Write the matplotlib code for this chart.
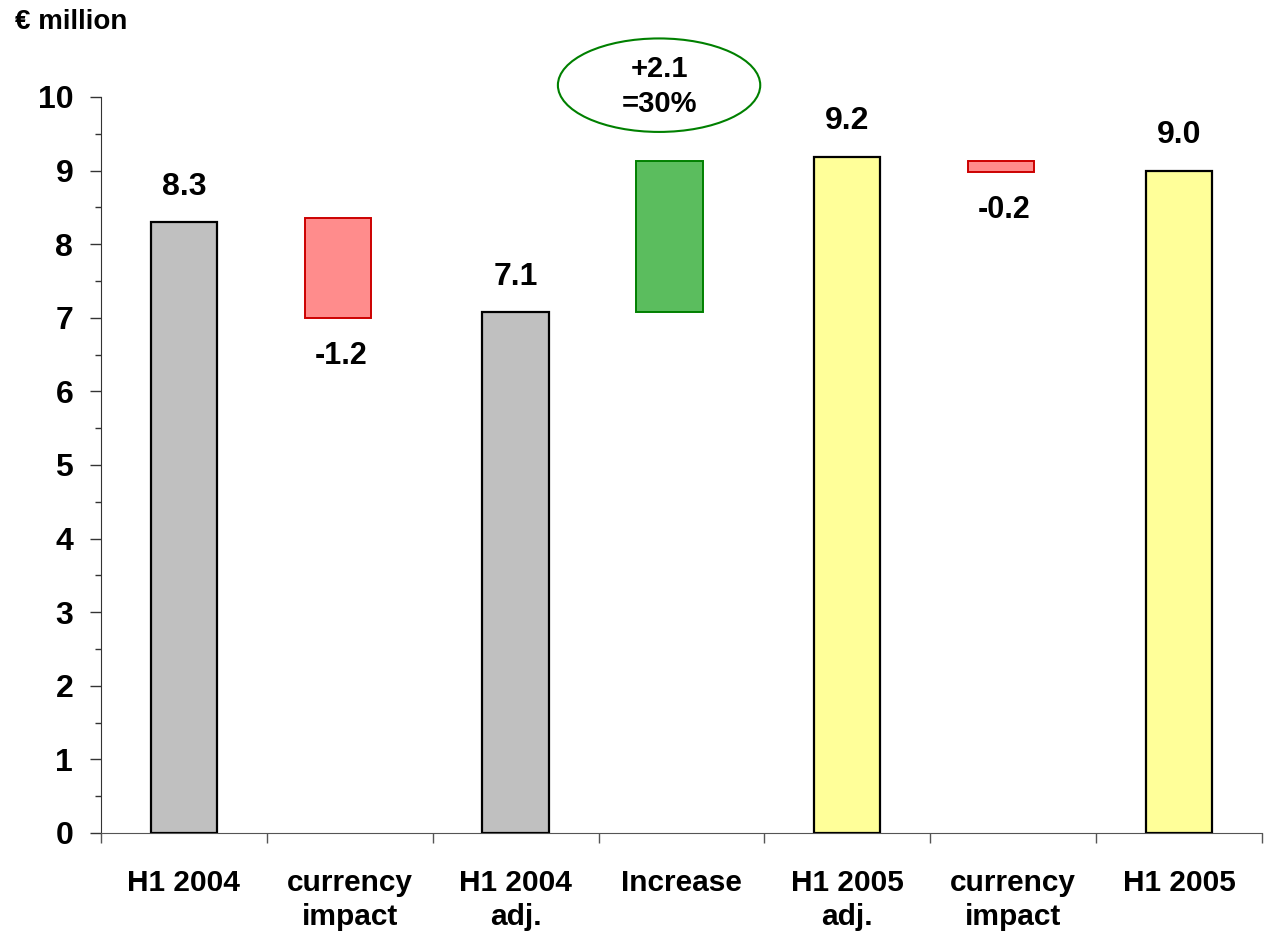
import matplotlib
matplotlib.use('Agg')
import matplotlib.pyplot as plt
from matplotlib.patches import Ellipse

plt.rcParams['font.family'] = ['Liberation Sans', 'DejaVu Sans']
plt.rcParams['font.weight'] = 'bold'

# categories along the x axis
categories = ['H1 2004', 'currency\nimpact', 'H1 2004\nadj.', 'Increase',
              'H1 2005\nadj.', 'currency\nimpact', 'H1 2005']

# total bars (index, value, label)
total_idx = [0, 2, 4, 6]
total_val = [8.3, 7.08, 9.19, 9.0]
total_lbl = ['8.3', '7.1', '9.2', '9.0']
total_col = ['#C0C0C0', '#C0C0C0', '#FFFF99', '#FFFF99']

# floating change bars (index, bottom, top, label)
delta_idx = [1, 3, 5]
delta_low = [7.0, 7.08, 8.98]
delta_high = [8.35, 9.135, 9.135]
delta_lbl = ['-1.2', '', '-0.2']
delta_fill = ['#FF8C8C', '#5BBD5E', '#FF8C8C']
delta_edge = ['#CC0000', '#008000', '#CC0000']

increase_txt = '+2.1\n=30%'

fig = plt.figure(figsize=(12.65, 9.35), dpi=100)
ax = fig.add_axes([0.0798, 0.1091, 0.9178, 0.7872])

w = 0.40
ax.bar(total_idx, total_val, width=w, color=total_col, edgecolor='black',
       linewidth=1.6, zorder=3)
for i, v, s in zip(total_idx, total_val, total_lbl):
    ax.text(i, v + 0.48, s, ha='center', va='center', fontsize=23,
            fontweight='bold')

off = -0.072
dx = [i + off for i in delta_idx]
heights = [h - l for h, l in zip(delta_high, delta_low)]
ax.bar(dx, heights, bottom=delta_low, width=w, color=delta_fill,
       edgecolor=delta_edge, linewidth=1.4, zorder=3)
for x, l, s in zip(dx, delta_low, delta_lbl):
    if s:
        ax.text(x + 0.02, l - 0.52, s, ha='center', va='center', fontsize=22,
                fontweight='bold')

# ellipse callout above the increase bar
ell = Ellipse((2.865, 10.16), 1.22, 1.27, facecolor='none',
              edgecolor='#008000', linewidth=1.5, clip_on=False)
ax.add_patch(ell)
ax.text(2.865, 10.14, increase_txt, ha='center', va='center', fontsize=21,
        fontweight='bold', linespacing=1.3, clip_on=False)

ax.set_xlim(-0.5, 6.5)
ax.set_ylim(0, 10)

ax.set_yticks(range(0, 11))
ax.set_yticks([i + 0.5 for i in range(10)], minor=True)
ax.tick_params(axis='y', which='major', length=8, width=1, pad=12,
               labelsize=23, color='#333333')
ax.tick_params(axis='y', which='minor', length=4.3, width=1, color='#333333')
for t in ax.get_yticklabels():
    t.set_fontweight('bold')

ax.set_xticks([i - 0.5 for i in range(8)])
ax.set_xticklabels([])
ax.set_xticks(range(7), minor=True)
ax.set_xticklabels(categories, minor=True, fontsize=21.5, fontweight='bold',
                   linespacing=1.25)
ax.tick_params(axis='x', which='major', length=7, width=1, color='#555555',
               direction='out')
ax.tick_params(axis='x', which='minor', length=0, pad=26)

for s in ['top', 'right']:
    ax.spines[s].set_visible(False)
ax.spines['left'].set_color('#333333')
ax.spines['bottom'].set_color('#555555')

fig.text(15 / 1265, 1 - 22 / 935, '€ million', ha='left', va='center',
         fontsize=20, fontweight='bold')

fig.savefig('out.png', dpi=100)
